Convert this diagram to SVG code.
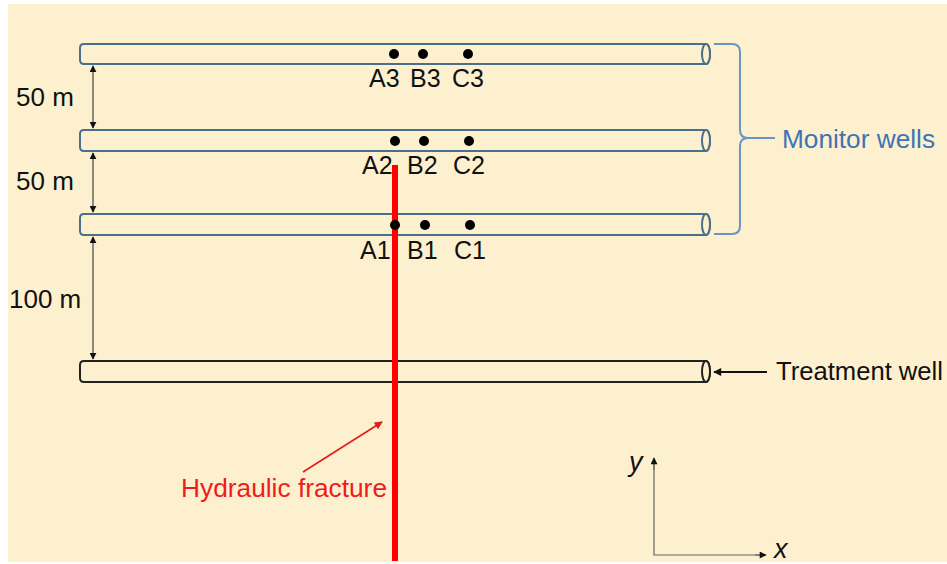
<svg xmlns="http://www.w3.org/2000/svg" width="947" height="564" viewBox="0 0 947 564">
<defs>
<style>
.well{fill:#fdf0cf;stroke:#4a6f8c;stroke-width:2}
.tw{fill:#fdf0cf;stroke:#222;stroke-width:2}
.dot{fill:#000}
.lbl{font-family:"Liberation Sans",Arial,sans-serif;font-size:25px;fill:#111}
.big{font-family:"Liberation Sans",Arial,sans-serif;font-size:26px}
.dim{stroke:#222;stroke-width:1;fill:none}
</style>
<marker id="ah" viewBox="0 0 10 10" refX="9" refY="5" markerWidth="7" markerHeight="7" orient="auto-start-reverse" markerUnits="userSpaceOnUse"><path d="M0,0 L10,5 L0,10 Z" fill="#111"/></marker>
<marker id="ahb" viewBox="0 0 10 10" refX="9" refY="5" markerWidth="9" markerHeight="8" orient="auto" markerUnits="userSpaceOnUse"><path d="M0,0 L10,5 L0,10 Z" fill="#111"/></marker>
<marker id="ahr" viewBox="0 0 10 10" refX="9" refY="5" markerWidth="10" markerHeight="8" orient="auto" markerUnits="userSpaceOnUse"><path d="M0,0 L10,5 L0,10 Z" fill="#e41b1b"/></marker>
<marker id="ahg" viewBox="0 0 10 10" refX="9" refY="5" markerWidth="8" markerHeight="7" orient="auto" markerUnits="userSpaceOnUse"><path d="M0,0 L10,5 L0,10 Z" fill="#111"/></marker>
</defs>
<rect x="0" y="0" width="947" height="564" fill="#fff"/>
<rect x="8" y="4" width="939" height="558" fill="#fdf0cf"/>

<g id="well3">
<path class="well" d="M84,44 L706,44 A4,10 0 0 1 706,64 L84,64 Q80,64 80,60 L80,48 Q80,44 84,44 Z"/>
<ellipse class="well" cx="706" cy="54" rx="4" ry="10"/>
<circle class="dot" cx="394" cy="54" r="5"/><circle class="dot" cx="423" cy="54" r="5"/><circle class="dot" cx="468" cy="54" r="5"/>
<text class="lbl" x="369" y="87">A3</text><text class="lbl" x="410" y="87">B3</text><text class="lbl" x="452" y="87">C3</text>
</g>
<g id="well2">
<path class="well" d="M84,130 L706,130 A4,10.5 0 0 1 706,151 L84,151 Q80,151 80,147 L80,134 Q80,130 84,130 Z"/>
<ellipse class="well" cx="706" cy="140.5" rx="4" ry="10.5"/>
<circle class="dot" cx="395" cy="141" r="5"/><circle class="dot" cx="424" cy="141" r="5"/><circle class="dot" cx="469" cy="141" r="5"/>
<text class="lbl" x="362" y="174">A2</text><text class="lbl" x="407" y="174">B2</text><text class="lbl" x="453" y="174">C2</text>
</g>
<g id="well1">
<path class="well" d="M84,214 L706,214 A4,10.5 0 0 1 706,235 L84,235 Q80,235 80,231 L80,218 Q80,214 84,214 Z"/>
<ellipse class="well" cx="706" cy="224.5" rx="4" ry="10.5"/>
</g>
<g id="treatment-well">
<path class="tw" d="M84,361 L706,361 A4,10.5 0 0 1 706,382 L84,382 Q80,382 80,378 L80,365 Q80,361 84,361 Z"/>
<ellipse class="tw" cx="706" cy="371.5" rx="4" ry="10.5"/>
<text class="big" x="776" y="380" fill="#111" textLength="167" lengthAdjust="spacingAndGlyphs">Treatment well</text>
</g>
<g id="fracture">
<line x1="395" y1="165" x2="395" y2="561" stroke="#ff0000" stroke-width="6"/>
<text class="big" x="181" y="497" fill="#ee1c1c" textLength="206" lengthAdjust="spacingAndGlyphs">Hydraulic fracture</text>
</g>
<g id="well1-points">
<circle class="dot" cx="395" cy="225" r="5"/><circle class="dot" cx="425" cy="225" r="5"/><circle class="dot" cx="470" cy="225" r="5"/>
<text class="lbl" x="360" y="259">A1</text><text class="lbl" x="407" y="259">B1</text><text class="lbl" x="454" y="259">C1</text>
</g>
<g id="monitor-label">
<path d="M714,44 L732,44 Q740,44 740,52 L740,130 Q740,138 748,138 L775,138 M748,138 Q740,138 740,146 L740,226 Q740,234 732,234 L714,234" fill="none" stroke="#6b93c4" stroke-width="2"/>
<text class="big" x="782" y="148" fill="#3c74b8" textLength="153" lengthAdjust="spacingAndGlyphs">Monitor wells</text>
</g>
<g id="dimensions">
<text class="big" x="16" y="106" fill="#111">50 m</text>
<text class="big" x="16" y="190" fill="#111">50 m</text>
<text class="big" x="9" y="308" fill="#111">100 m</text>
</g>
<g id="axes">
<text x="629" y="471" font-family="Liberation Sans,Arial,sans-serif" font-size="27" font-style="italic" fill="#111">y</text>
<text x="774" y="558" font-family="Liberation Sans,Arial,sans-serif" font-size="27" font-style="italic" fill="#111">x</text>
</g>
<g id="connectors">
<line class="dim" x1="93" y1="66" x2="93" y2="128" marker-start="url(#ah)" marker-end="url(#ah)"/>
<line class="dim" x1="93" y1="153" x2="93" y2="212" marker-start="url(#ah)" marker-end="url(#ah)"/>
<line class="dim" x1="93" y1="237" x2="93" y2="359" marker-start="url(#ah)" marker-end="url(#ah)"/>
<line x1="767" y1="372" x2="714" y2="372" stroke="#111" stroke-width="2" marker-end="url(#ahb)"/>
<line x1="303" y1="472" x2="382" y2="422" stroke="#e41b1b" stroke-width="1.6" marker-end="url(#ahr)"/>
<path d="M654,460 L654,555 L763,555" fill="none" stroke="#666" stroke-width="1.2"/>
<line x1="654" y1="470" x2="654" y2="458" stroke="#666" stroke-width="1.2" marker-end="url(#ahg)"/>
<line x1="755" y1="555" x2="766" y2="555" stroke="#666" stroke-width="1.2" marker-end="url(#ahg)"/>
</g>
</svg>
